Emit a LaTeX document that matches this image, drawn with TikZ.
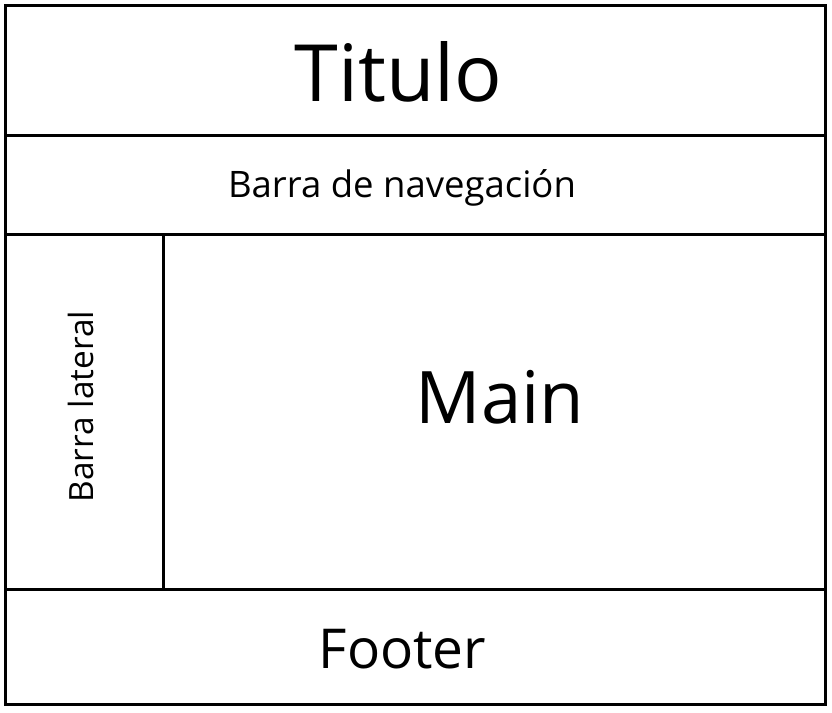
\documentclass[tikz,border=0pt]{standalone}
\usepackage{fontspec}
\setmainfont{Open Sans}
\usepackage{tikz}
\usetikzlibrary{positioning}

\begin{document}
\begin{tikzpicture}[x=1pt, y=-1pt,
		frame/.style={line width=3pt},
		lab/.style={inner sep=0pt, anchor=base}
		]
		\useasboundingbox (0,0) rectangle (832,712);
		% corners of the layout
		\coordinate (tl) at (5.5,5.5);
		\coordinate (br) at (825.5,704.5);
		\coordinate (navtop) at (5.5,135);
		\coordinate (navbot) at (5.5,234.5);
		\coordinate (foot) at (5.5,589.5);
		\draw[frame] (tl) rectangle (br);
		\draw[frame] (navtop) -- (navtop -| br);
		\draw[frame] (navbot) -- (navbot -| br);
		\draw[frame] (foot) -- (foot -| br);
		\draw[frame] (163.5,234.5) coordinate (side) -- (side |- foot);
		% texts
		\node[lab, font=\fontsize{79}{80}\selectfont] (titulo) at (398.5,101) {Titulo};
		\node[lab, font=\fontsize{36.5}{38}\selectfont] (nav) at (402,197) {Barra de navegación};
		\node[lab, font=\fontsize{33.4}{36}\selectfont, rotate=90] (lateral) at (93,406.5) {Barra lateral};
		\node[lab, font=\fontsize{72.5}{74}\selectfont] (main) at (500,423) {Main};
		\node[lab, font=\fontsize{55}{58}\selectfont] (footer) at (402.5,668) {Footer};
	\end{tikzpicture}
\end{document}
